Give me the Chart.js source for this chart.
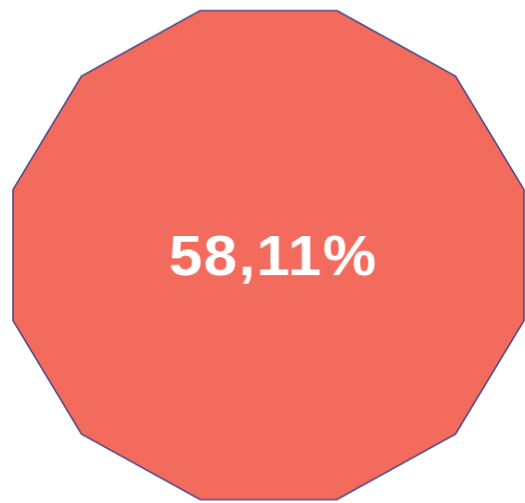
<!DOCTYPE html>
<html>
<head>
<meta charset="utf-8">
<script src="https://cdn.jsdelivr.net/npm/chart.js@4/dist/chart.umd.min.js"></script>
<style>
    html, body { margin: 0; padding: 0; background: #ffffff; overflow: hidden; }
    body { width: 525px; height: 503px; position: relative; }
    /* chart is drawn square, then squashed a bit vertically like the original */
    #wrap {
        position: absolute;
        left: 4px;
        top: 2.4px;
        width: 530px;
        height: 530px;
        transform: scale(0.998, 0.955);
        transform-origin: 0 0;
    }
</style>
</head>
<body>
<div id="wrap"><canvas id="chart"></canvas></div>
<script>
// Chart data
const sides = ['', '', '', '', '', '', '', '', '', '', '', ''];
const values = [100, 100, 100, 100, 100, 100, 100, 100, 100, 100, 100, 100];
const centerLabel = '58,11%';

const FILL = '#F36B5D';
const EDGE = '#4B4788';

// Draw the percentage in the middle of the polygon
const centerText = {
    id: 'centerText',
    afterDatasetsDraw(chart) {
        const r = chart.scales.r;
        const ctx = chart.ctx;
        ctx.save();
        ctx.font = 'bold 60px "Liberation Sans", Arial, sans-serif';
        ctx.letterSpacing = '1.5px';
        ctx.fillStyle = '#ffffff';
        ctx.textAlign = 'center';
        ctx.textBaseline = 'alphabetic';
        ctx.fillText(centerLabel, r.xCenter + 4.75, r.yCenter + 20.5);
        ctx.restore();
    }
};

new Chart(document.getElementById('chart'), {
    type: 'radar',
    data: {
        labels: sides,
        datasets: [{
            data: values,
            backgroundColor: FILL,
            borderColor: EDGE,
            borderWidth: 1.6,
            pointRadius: 0,
            pointHoverRadius: 0,
            fill: true
        }]
    },
    options: {
        responsive: true,
        maintainAspectRatio: false,
        animation: false,
        layout: { padding: 0 },
        plugins: {
            legend: { display: false },
            tooltip: { enabled: false }
        },
        scales: {
            r: {
                min: 0,
                max: 100,
                startAngle: 15,
                grid: { display: false },
                angleLines: { display: false },
                ticks: { display: false },
                pointLabels: { display: false }
            }
        }
    },
    plugins: [centerText]
});
</script>
</body>
</html>
